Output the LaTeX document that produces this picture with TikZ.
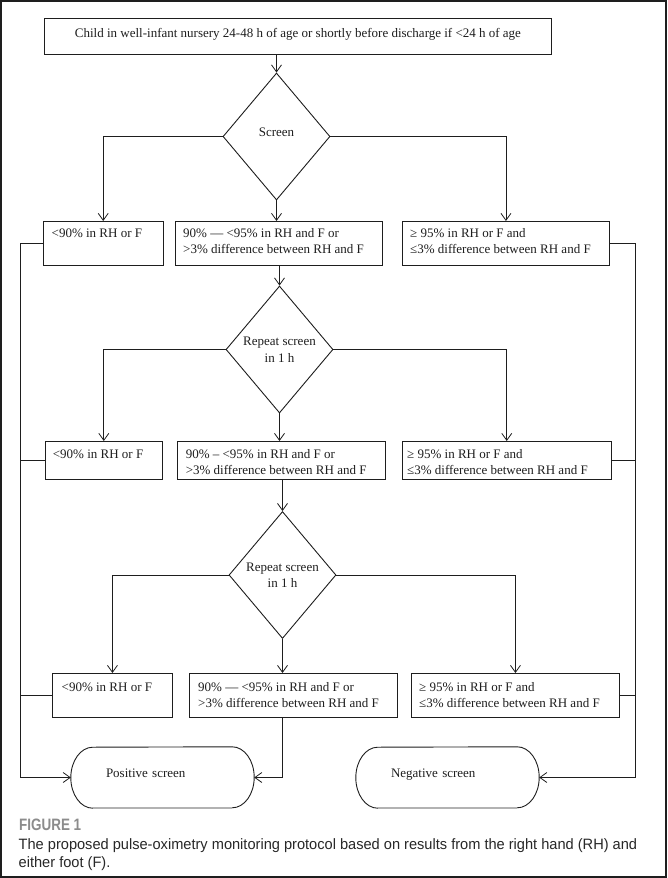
\documentclass[tikz,border=0pt]{standalone}
\usepackage{fontspec}
\setmainfont{Liberation Serif}
\newfontfamily\capfont{Liberation Sans}
\usetikzlibrary{shapes.geometric,arrows.meta,calc}
\definecolor{figgray}{RGB}{140,140,140}
\definecolor{ink}{RGB}{30,30,30}
\definecolor{capink}{RGB}{40,40,40}
\newlength\capw
\newcommand\stadium[1]{%
  \draw[ink, line width=0.9pt] ([xshift=22pt]#1.south west)
    arc[start angle=270, end angle=90, x radius=22pt, y radius=30.5pt]
    -- ([xshift=-22pt]#1.north east)
    arc[start angle=90, end angle=-90, x radius=22pt, y radius=30.5pt];
  \draw[gray!60, line width=1.6pt] ([xshift=22pt]#1.south west) -- ([xshift=-22pt]#1.south east);}
\begin{document}
\settowidth{\capw}{\capfont\fontsize{15}{17}\selectfont The proposed pulse-oximetry monitoring protocol based on results from the right hand (RH) and}%
\pgfmathsetmacro\capsx{618.5pt/\capw}%
\begin{tikzpicture}[x=1pt,y=-1pt,
  every node/.style={font=\fontsize{13}{15.5}\selectfont, text=ink},
  box/.style={rectangle, draw=ink, line width=0.9pt, anchor=north west, inner sep=0},
  txt/.style={anchor=north west, inner sep=0, align=left},
  decision/.style={diamond, draw=ink, line width=0.9pt, minimum width=107pt, minimum height=127pt, inner sep=0, align=center},
  arr/.style={-{Straight Barb[length=7pt,width=10pt]}, draw=ink, line width=0.8pt},
  con/.style={draw=ink, line width=0.8pt},
  term/.style={rectangle, minimum width=#1, minimum height=61pt, inner xsep=35pt, inner ysep=0, text width=113pt, align=left, text height=6pt, text depth=6pt}
]
\useasboundingbox (0,0) rectangle (667,878);
\fill[white] (0,0) rectangle (667,878);
\draw[ink, line width=1.6pt] (1,1) rectangle (666,877);

% top box
\node[box, minimum width=507pt, minimum height=36pt, text height=8pt, text depth=5pt] (top) at (44,18)
  {Child in well-infant nursery 24-48 h of age or shortly before discharge if <24 h of age};

% decisions
\node[decision] (D1) at (276.5,136.5) {\raisebox{8.5pt}{Screen}};
\node[decision, font=\fontsize{13}{16.5}\selectfont] (D2) at (279.5,349.5) {Repeat screen\\in 1 h};
\node[decision, font=\fontsize{13}{16}\selectfont] (D3) at (282.5,575) {Repeat screen\\in 1 h};

% row 1
\node[box, minimum width=119.5pt, minimum height=44pt] (b1l) at (43,221) {};
\node[box, minimum width=207.5pt, minimum height=44pt] (b1m) at (174.5,221) {};
\node[box, minimum width=207pt, minimum height=44pt] (b1r) at (402,221) {};
\node[txt] (t1l) at ([shift={(8.5pt,-5.7pt)}]b1l.north west) {\strut<90\% in RH or F};
\node[txt] (t1m) at ([shift={(8.5pt,-5.7pt)}]b1m.north west) {\strut90\% — <95\% in RH and F or\\>3\% difference between RH and F};
\node[txt] (t1r) at ([shift={(8pt,-5.7pt)}]b1r.north west) {\strut≥ 95\% in RH or F and\\≤3\% difference between RH and F};

% row 2
\node[box, minimum width=117.3pt, minimum height=38pt] (b2l) at (44.7,441) {};
\node[box, minimum width=208.4pt, minimum height=38pt] (b2m) at (176.6,441) {};
\node[box, minimum width=208.6pt, minimum height=38pt] (b2r) at (402,441) {};
\node[txt] (t2l) at ([shift={(8pt,-6.5pt)}]b2l.north west) {\strut<90\% in RH or F};
\node[txt] (t2m) at ([shift={(9pt,-6.5pt)}]b2m.north west) {\strut90\% – <95\% in RH and F or\\>3\% difference between RH and F};
\node[txt] (t2r) at ([shift={(5pt,-6.5pt)}]b2r.north west) {\strut≥ 95\% in RH or F and\\≤3\% difference between RH and F};

% row 3
\node[box, minimum width=120pt, minimum height=44.3pt] (b3l) at (52,673) {};
\node[box, minimum width=208pt, minimum height=44.3pt] (b3m) at (189,673) {};
\node[box, minimum width=208pt, minimum height=44.3pt] (b3r) at (411,673) {};
\node[txt] (t3l) at ([shift={(9.5pt,-7.5pt)}]b3l.north west) {\strut<90\% in RH or F};
\node[txt] (t3m) at ([shift={(9pt,-7.5pt)}]b3m.north west) {\strut90\% — <95\% in RH and F or\\>3\% difference between RH and F};
\node[txt] (t3r) at ([shift={(8pt,-7.5pt)}]b3r.north west) {\strut≥ 95\% in RH or F and\\≤3\% difference between RH and F};

% terminals
\node[term=183pt] (pos) at (162.5,777.5) {Positive screen};
\node[term=181.5pt] (neg) at (447.5,777.5) {Negative screen};
\stadium{pos}
\stadium{neg}

% connectors
\draw[arr] (top.south -| D1.north) -- (D1.north);
\draw[arr] (D1.west) -| (b1l.north);
\draw[arr] (D1.east) -| (b1r.north);
\draw[arr] (D1.south) -- (D1.south |- b1m.north);
\draw[arr] (b1m.south -| D2.north) -- (D2.north);
\draw[arr] (D2.west) -| (b2l.north);
\draw[arr] (D2.east) -| (b2r.north);
\draw[arr] (D2.south) -- (D2.south |- b2m.north);
\draw[arr] (b2m.south -| D3.north) -- (D3.north);
\draw[arr] (D3.west) -| (b3l.north);
\draw[arr] (D3.east) -| (b3r.north);
\draw[arr] (D3.south) -- (D3.south |- b3m.north);
\draw[arr] (b3m.south -| D3.south) |- (pos.east);

\coordinate (LR) at (20,0);
\coordinate (RR) at (635,0);
\draw[con] (b1l.west) -- (b1l.west -| LR);
\draw[con] (b2l.west) -- (b2l.west -| LR);
\draw[con] (b3l.west) -- (b3l.west -| LR);
\draw[arr] (b1l.west -| LR) |- (pos.west);
\draw[con] (b1r.east) -- (b1r.east -| RR);
\draw[con] (b2r.east) -- (b2r.east -| RR);
\draw[con] (b3r.east) -- (b3r.east -| RR);
\draw[arr] (b1r.east -| RR) |- (neg.east);

% caption
\node[anchor=base west, inner sep=0, font=\capfont\bfseries\fontsize{16.5}{18}\selectfont, text=figgray] (fig) at (19,830.5) {\resizebox{62pt}{\height}{FIGURE 1}};
\node[anchor=base west, inner sep=0, font=\capfont\fontsize{15}{17}\selectfont, text=capink] (cap1) at (18.5,849.5) {\scalebox{\capsx}[1]{The proposed pulse-oximetry monitoring protocol based on results from the right hand (RH) and}};
\node[anchor=base west, inner sep=0, font=\capfont\fontsize{15}{17}\selectfont, text=capink] (cap2) at (18.5,867) {\scalebox{\capsx}[1]{either foot (F).}};
\end{tikzpicture}
\end{document}
